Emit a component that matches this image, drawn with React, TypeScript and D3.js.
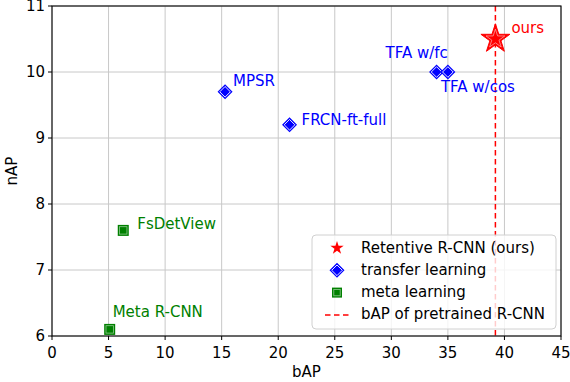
import React from "react";
import * as d3 from "d3";

const width = 570;
const height = 382;
const margin = { top: 6, right: 9, bottom: 46, left: 52 };

const xTicks = [0, 5, 10, 15, 20, 25, 30, 35, 40, 45];
const yTicks = [6, 7, 8, 9, 10, 11];

const oursPoint = { name: "ours", bAP: 39.2, nAP: 10.5 };
const transferNames = ["MPSR", "FRCN-ft-full", "TFA w/fc", "TFA w/cos"];
const transferBAP = [15.3, 21.0, 34.0, 35.0];
const transferNAP = [9.7, 9.2, 10.0, 10.0];
const metaNames = ["FsDetView", "Meta R-CNN"];
const metaBAP = [6.3, 5.1];
const metaNAP = [7.6, 6.1];
const pretrainedBAP = 39.2;

const legendLabels = [
  "Retentive R-CNN (ours)",
  "transfer learning",
  "meta learning",
  "bAP of pretrained R-CNN",
];

const RED = "#ff0000";
const BLUE = "#0000ff";
const GREEN = "#008000";
const font = "DejaVu Sans, sans-serif";
const fs = 15;

const labelOffsets: Record<string, [number, number]> = {
  ours: [16, -11],
  MPSR: [8, -10],
  "FRCN-ft-full": [12, -4],
  "TFA w/fc": [-51, -19],
  "TFA w/cos": [-7, 15],
  FsDetView: [14, -6],
  "Meta R-CNN": [3, -17],
};

const star = d3.symbol().type(d3.symbolStar);

function Diamond({ x, y, r }: { x: number; y: number; r: number }) {
  const p = (s: number) => `M${x},${y - s}L${x + s},${y}L${x},${y + s}L${x - s},${y}Z`;
  return (
    <g>
      <path d={p(r)} fill={BLUE} />
      <path d={p(r - 2.2)} fill={BLUE} stroke="#fff" strokeWidth={0.9} />
    </g>
  );
}

function Square({ x, y, r }: { x: number; y: number; r: number }) {
  return (
    <g>
      <rect x={x - r} y={y - r} width={2 * r} height={2 * r} fill={GREEN} />
      <rect x={x - r + 1.8} y={y - r + 1.8} width={2 * r - 3.6} height={2 * r - 3.6} fill={GREEN} stroke="#8fc88f" strokeWidth={0.8} />
    </g>
  );
}

export default function App() {
  const iw = width - margin.left - margin.right;
  const ih = height - margin.top - margin.bottom;
  const x = d3.scaleLinear().domain([0, 45]).range([margin.left, margin.left + iw]);
  const y = d3.scaleLinear().domain([6, 11]).range([margin.top + ih, margin.top]);

  const label = (name: string, px: number, py: number, color: string) => {
    const [dx, dy] = labelOffsets[name];
    return (
      <text key={"l" + name} x={px + dx} y={py + dy} fill={color} fontSize={fs} dominantBaseline="middle">
        {name}
      </text>
    );
  };

  const lx = 312;
  const ly = 235;
  const rowY = (i: number) => ly + 13 + i * 22.3;

  return (
    <svg width={width} height={height} style={{ position: "absolute", left: 0, top: 0, fontFamily: font }}>
      <rect width={width} height={height} fill="#fff" />
      {xTicks.map((t) => (
        <line key={"gx" + t} x1={x(t)} x2={x(t)} y1={margin.top} y2={margin.top + ih} stroke="#c8c8c8" strokeWidth={1} />
      ))}
      {yTicks.map((t) => (
        <line key={"gy" + t} x1={margin.left} x2={margin.left + iw} y1={y(t)} y2={y(t)} stroke="#c8c8c8" strokeWidth={1} />
      ))}
      <line x1={x(pretrainedBAP)} x2={x(pretrainedBAP)} y1={margin.top} y2={margin.top + ih} stroke={RED} strokeWidth={1.5} strokeDasharray="5.5,3.5" />

      {metaNames.map((n, i) => (
        <Square key={n} x={x(metaBAP[i])} y={y(metaNAP[i])} r={5.5} />
      ))}
      {metaNames.map((n, i) => label(n, x(metaBAP[i]), y(metaNAP[i]), GREEN))}
      {transferNames.map((n, i) => (
        <Diamond key={n} x={x(transferBAP[i])} y={y(transferNAP[i])} r={7.5} />
      ))}
      {transferNames.map((n, i) => label(n, x(transferBAP[i]), y(transferNAP[i]), BLUE))}
      <path d={star.size(260)()!} transform={`translate(${x(oursPoint.bAP)},${y(oursPoint.nAP)})`} fill={RED} stroke={RED} strokeWidth={1} />
      <path d={star.size(110)()!} transform={`translate(${x(oursPoint.bAP)},${y(oursPoint.nAP)})`} fill="none" stroke="#ffb0b0" strokeWidth={0.7} />
      {label(oursPoint.name, x(oursPoint.bAP), y(oursPoint.nAP), RED)}

      <rect x={margin.left} y={margin.top} width={iw} height={ih} fill="none" stroke="#000" strokeWidth={1.1} />
      {xTicks.map((t) => (
        <g key={"tx" + t}>
          <line x1={x(t)} x2={x(t)} y1={margin.top + ih} y2={margin.top + ih + 4} stroke="#000" />
          <text x={x(t)} y={margin.top + ih + 17} textAnchor="middle" fontSize={fs} dominantBaseline="middle">{t}</text>
        </g>
      ))}
      {yTicks.map((t) => (
        <g key={"ty" + t}>
          <line x1={margin.left - 4} x2={margin.left} y1={y(t)} y2={y(t)} stroke="#000" />
          <text x={margin.left - 7} y={y(t) + 0.5} textAnchor="end" fontSize={fs} dominantBaseline="middle">{t}</text>
        </g>
      ))}
      <text x={margin.left + iw / 2} y={372} textAnchor="middle" fontSize={fs} dominantBaseline="middle">bAP</text>
      <text transform={`translate(12,${margin.top + ih / 2}) rotate(-90)`} textAnchor="middle" fontSize={fs} dominantBaseline="middle">nAP</text>

      <rect x={lx} y={ly} width={244} height={94} rx={4} fill="#fff" fillOpacity={0.8} stroke="#d0d0d0" strokeWidth={1} />
      <path d={star.size(55)()!} transform={`translate(${lx + 25},${rowY(0)})`} fill={RED} />
      <Diamond x={lx + 25} y={rowY(1)} r={7.5} />
      <Square x={lx + 25} y={rowY(2)} r={5} />
      <line x1={lx + 13} x2={lx + 39} y1={rowY(3)} y2={rowY(3)} stroke={RED} strokeWidth={1.5} strokeDasharray="5.5,3.5" />
      {legendLabels.map((l, i) => (
        <text key={l} x={lx + 49} y={rowY(i)} fontSize={fs} dominantBaseline="middle">{l}</text>
      ))}
    </svg>
  );
}
